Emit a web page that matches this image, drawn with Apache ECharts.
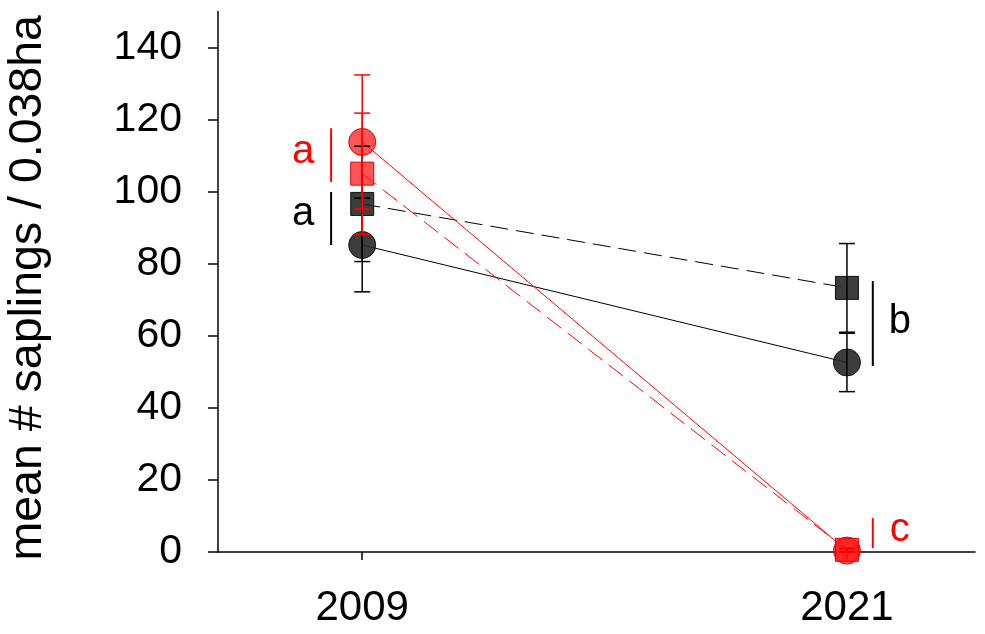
<!DOCTYPE html>
<html>
<head>
<meta charset="utf-8">
<script src="https://cdn.jsdelivr.net/npm/echarts@6/dist/echarts.min.js"></script>
<style>html,body{margin:0;padding:0;background:#fff}#c{width:985px;height:634px}</style>
</head>
<body>
<div id="c"></div>
<script>
// ---- data ----
const years = [2009, 2021];
const blackCircle = [85.2, 52.6];
const blackCircleSE = [13.0, 8.1];
const blackSquare = [96.6, 73.3];
const blackSquareSE = [16.0, 12.3];
const redCircle = [113.8, 0.4];
const redCircleSE = [18.6, 0.5];
const redSquare = [105.0, 0.6];
const redSquareSE = [16.8, 0.5];
const yTicks = [0, 20, 40, 60, 80, 100, 120, 140];
// significance letters: [bar x, bar y low, bar y high, text x, text y]
const letters = ['a', 'a', 'b', 'c'];
const letterColors = ['#ff0000', '#000000', '#000000', '#ff0000'];
const letterBars = [
  [2008.23, 102.7, 117.6, 2007.54, 111.0],
  [2008.23, 85.2, 99.9, 2007.54, 93.8],
  [2021.64, 51.6, 75.2, 2022.31, 63.7],
  [2021.64, 1.1, 9.4, 2022.31, 6.0]
];

const FONT = 'Liberation Sans, Arial, sans-serif';
const chart = echarts.init(document.getElementById('c'));

function pts(vals) { return years.map((y, i) => [y, vals[i]]); }
function errData(vals, se) { return years.map((y, i) => [y, vals[i] - se[i], vals[i] + se[i]]); }

function errSeries(vals, se, color) {
  return {
    type: 'custom',
    z: 5,
    silent: true,
    data: errData(vals, se),
    renderItem: function (params, api) {
      const x = api.value(0);
      const lo = api.coord([x, api.value(1)]);
      const hi = api.coord([x, api.value(2)]);
      const w = 8;
      const style = { stroke: color, lineWidth: 1.5 };
      return {
        type: 'group',
        children: [
          { type: 'line', shape: { x1: lo[0], y1: lo[1], x2: hi[0], y2: hi[1] }, style: style },
          { type: 'line', shape: { x1: lo[0] - w, y1: lo[1], x2: lo[0] + w, y2: lo[1] }, style: style },
          { type: 'line', shape: { x1: hi[0] - w, y1: hi[1], x2: hi[0] + w, y2: hi[1] }, style: style }
        ]
      };
    }
  };
}

function lineSeries(vals, symbol, size, fill, border, lineColor, dashed) {
  return {
    type: 'line',
    data: pts(vals),
    symbol: symbol,
    symbolSize: size,
    z: 3,
    itemStyle: { color: fill, borderColor: border, borderWidth: 1 },
    lineStyle: { color: lineColor, width: 1, type: dashed ? [18, 8] : 'solid' },
    emphasis: { disabled: true },
    silent: true,
    animation: false
  };
}

const option = {
  animation: false,
  grid: { left: 218, right: 10, top: 11.5, bottom: 82, containLabel: false, outerBoundsMode: 'none' },
  xAxis: {
    type: 'value',
    min: 2005.43,
    max: 2024.17,
    splitLine: { show: false },
    axisLine: { show: true, lineStyle: { color: '#000', width: 1.5 } },
    axisTick: { show: true, customValues: years, length: 8, lineStyle: { color: '#000', width: 1.5 } },
    axisLabel: { customValues: years, fontSize: 42, color: '#000', fontFamily: FONT, margin: 35,
      formatter: v => String(v) }
  },
  yAxis: {
    type: 'value',
    min: 0,
    max: 150,
    name: 'mean # saplings / 0.038ha',
    nameLocation: 'middle',
    nameGap: 166,
    nameTextStyle: { fontSize: 46.5, color: '#000', fontFamily: FONT, padding: [0, 12, 0, 0] },
    splitLine: { show: false },
    axisLine: { show: true, lineStyle: { color: '#000', width: 1.5 } },
    axisTick: { show: true, customValues: yTicks, length: 10, lineStyle: { color: '#000', width: 1.5 } },
    axisLabel: { customValues: yTicks, fontSize: 41, color: '#000', fontFamily: FONT, margin: 36 }
  },
  series: [
    lineSeries(blackCircle, 'circle', 27, 'rgba(40,40,40,0.9)', '#111', '#000', false),
    lineSeries(blackSquare, 'rect', 23, 'rgba(40,40,40,0.9)', '#111', '#000', true),
    lineSeries(redCircle, 'circle', 27, 'rgba(255,20,20,0.72)', '#e00000', '#ff0000', false),
    lineSeries(redSquare, 'rect', 23, 'rgba(255,20,20,0.72)', '#e00000', '#ff0000', true),
    errSeries(blackCircle, blackCircleSE, '#000'),
    errSeries(blackSquare, blackSquareSE, '#000'),
    errSeries(redCircle, redCircleSE, '#ff0000'),
    errSeries(redSquare, redSquareSE, '#ff0000'),
    {
      type: 'custom',
      z: 6,
      silent: true,
      data: letterBars.map((b, i) => [b[0], b[1], b[2], b[3], b[4], i]),
      renderItem: function (params, api) {
        const i = api.value(5);
        const lo = api.coord([api.value(0), api.value(1)]);
        const hi = api.coord([api.value(0), api.value(2)]);
        const t = api.coord([api.value(3), api.value(4)]);
        const c = letterColors[i];
        return {
          type: 'group',
          children: [
            { type: 'line', shape: { x1: lo[0], y1: lo[1], x2: hi[0], y2: hi[1] }, style: { stroke: c, lineWidth: 2 } },
            { type: 'text', x: t[0], y: t[1], style: { text: letters[i], fill: c, font: '40px ' + FONT, align: 'center', verticalAlign: 'middle' } }
          ]
        };
      }
    }
  ]
};
chart.setOption(option);
</script>
</body>
</html>
